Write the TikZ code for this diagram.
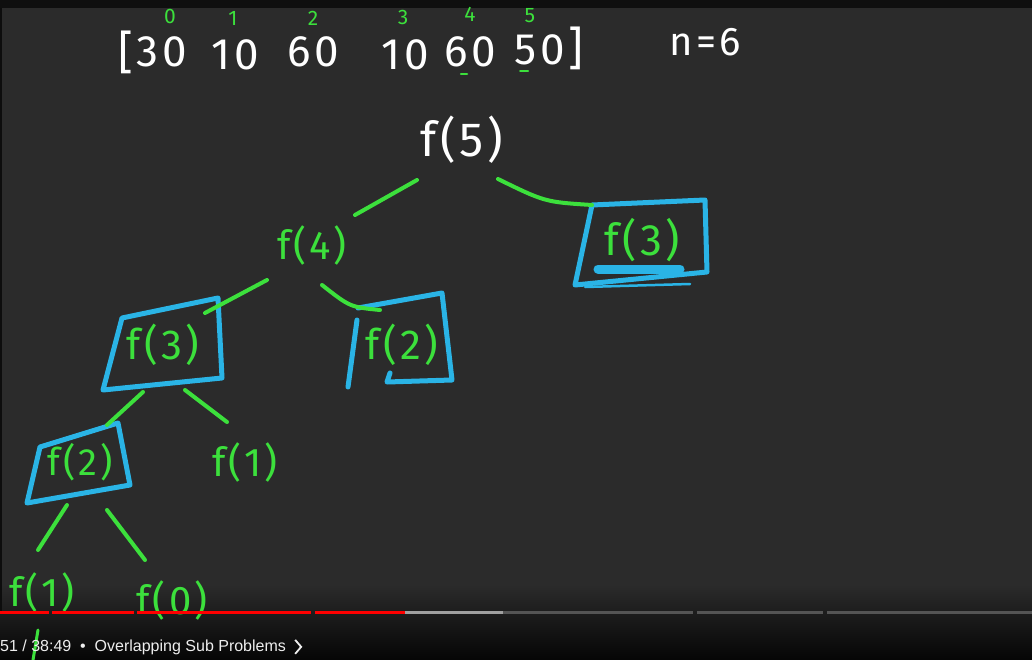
\documentclass[tikz,border=0pt]{standalone}
\usepackage{fontspec}
\setmainfont{Fira Sans}[LetterSpace=8]
\newfontfamily\capfont{Liberation Sans}
\usetikzlibrary{calc}
\definecolor{bg}{HTML}{2B2B2B}
\definecolor{topbar}{HTML}{0F0F0F}
\definecolor{hgreen}{HTML}{3CE03C}
\definecolor{hblue}{HTML}{2AB4E6}
\definecolor{ytred}{HTML}{FF0000}
\definecolor{ytbuf}{HTML}{A0A0A0}
\definecolor{ytrest}{HTML}{555555}
\definecolor{captxt}{HTML}{EEEEEE}
\begin{document}
\begin{tikzpicture}[x=1pt,y=-1pt,
  hw/.style={inner sep=0pt, text=white, font=\fontsize{#1}{#1}\selectfont},
  gw/.style={inner sep=0pt, text=hgreen, font=\fontsize{#1}{#1}\selectfont},
  idx/.style={inner sep=0pt, text=hgreen, font=\fontsize{21}{21}\selectfont},
  edge/.style={draw=hgreen, line width=4pt, line cap=round},
  box/.style={draw=hblue, line width=5pt, line cap=round, line join=round},
  bar/.style={line width=3pt}]
% background
\fill[bg] (0,0) rectangle (1032,660);
\useasboundingbox (0,0) rectangle (1032,660);
\shade[top color=bg, bottom color=black!88!bg] (0,585) rectangle (1032,660);
\fill[topbar] (0,0) rectangle (1032,8);
\fill[black!70!bg] (0,8) rectangle (2,612);

% array line
\node[hw=46] (lb) at (126,52) {[};
\node[hw=44] (a0) at (162,52) {30};
\node[hw=44] (a1) at (235,55) {10};
\node[hw=44] (a2) at (313,52) {60};
\node[hw=44] (a3) at (405,55) {10};
\node[hw=44] (a4) at (470,52) {60};
\node[hw=44] (a5) at (540,50) {50};
\node[hw=46] (rb) at (576,48) {]};
\node[idx] (i0) at (170,16) {0};
\node[idx] (i1) at (233,18) {1};
\node[idx] (i2) at (313,18) {2};
\node[idx] (i3) at (403,18) {3};
\node[idx] (i4) at (470,14) {4};
\node[idx] (i5) at (530,16) {5};
\draw[hgreen, line width=2.5pt, line cap=round] ($(a4)+(-9,22)$) -- ($(a4)+(-3,22)$);
\draw[hgreen, line width=2pt, line cap=round] ($(a5)+(-20,21)$) -- ($(a5)+(-12,21)$);
\node[hw=40] (n) at (705,42) {n=6};

% tree nodes
\node[hw=48] (f5) at (462,140) {f(5)};
\node[gw=40] (f4) at (312,245) {f(4)};
\node[gw=44] (f3r) at (642,240) {f(3)};
\node[gw=42] (f3l) at (163,345) {f(3)};
\node[gw=42] (f2m) at (402,345) {f(2)};
\node[gw=38] (f2l) at (80,462) {f(2)};
\node[gw=40] (f1m) at (245,462) {f(1)};
\node[gw=40] (f1b) at (42,592) {f(1)};
\node[gw=40] (f0) at (172,600) {f(0)};

% boxes
\draw[box] ($(f3r)+(-50,-35)$) -- ($(f3r)+(63,-40)$) -- ($(f3r)+(65,32)$) -- ($(f3r)+(-67,45)$) -- cycle;
\draw[hblue, line width=2.5pt, line cap=round] ($(f3r)+(-57,47)$) -- ($(f3r)+(48,44)$);
\draw[hblue, line width=9pt, line cap=round] ($(f3r)+(-44,29)$) -- ($(f3r)+(38,29)$);
\draw[box] ($(f3l)+(-41,-27)$) -- ($(f3l)+(55,-47)$) -- ($(f3l)+(59,33)$) -- ($(f3l)+(-60,45)$) -- cycle;
\draw[box] ($(f2m)+(-45,-25)$) -- ($(f2m)+(-54,42)$);
\draw[box] ($(f2m)+(-44,-37)$) -- ($(f2m)+(40,-52)$) -- ($(f2m)+(50,35)$) -- ($(f2m)+(-15,37)$) -- ($(f2m)+(-12,28)$);
\draw[box] ($(f2l)+(-40,-15)$) -- ($(f2l)+(38,-39)$) -- ($(f2l)+(50,23)$) -- ($(f2l)+(-53,41)$) -- cycle;

% connectors
\draw[edge] ($(f5)+(-45,40)$) -- ($(f4)+(43,-30)$);
\draw[edge] ($(f5)+(36,39)$) .. controls ($(f5)+(83,62)$) .. ($(f3r)+(-50,-35)$);
\draw[edge] ($(f4)+(-45,35)$) -- ($(f3l)+(42,-32)$);
\draw[edge] ($(f4)+(10,40)$) .. controls ($(f4)+(38,62)$) .. ($(f2m)+(-22,-35)$);
\draw[edge] ($(f3l)+(-20,47)$) -- ($(f2l)+(27,-37)$);
\draw[edge] ($(f3l)+(22,45)$) -- ($(f1m)+(-18,-40)$);
\draw[edge] ($(f2l)+(-13,43)$) -- ($(f1b)+(-4,-42)$);
\draw[edge] ($(f2l)+(27,48)$) -- ($(f0)+(-27,-40)$);
\draw[hgreen, line width=3pt, line cap=round] ($(f1b)+(-4,38)$) -- ($(f1b)+(-9,68)$);

% player bar
\draw[bar, ytred] (0,612) -- (49,612);
\draw[bar, ytred] (52,612) -- (134,612);
\draw[bar, ytred] (137,612) -- (311,612);
\draw[bar, ytred] (315,612) -- (405,612);
\draw[bar, ytbuf] (405,612) -- (503,612);
\draw[bar, ytrest] (503,612) -- (693,612);
\draw[bar, ytrest] (697,612) -- (823,612);
\draw[bar, ytrest] (827,612) -- (1032,612);
\node[anchor=base west, inner sep=0pt, text=captxt, font=\capfont\fontsize{16}{16}\selectfont] (cap) at (0,651) {51 / 38:49\ \ \textbullet\ \ Overlapping Sub Problems};
\draw[captxt, line width=1.8pt] ($(cap.east)+(9,-7)$) -- ($(cap.east)+(15,0)$) -- ($(cap.east)+(9,7)$);
\end{tikzpicture}
\end{document}
